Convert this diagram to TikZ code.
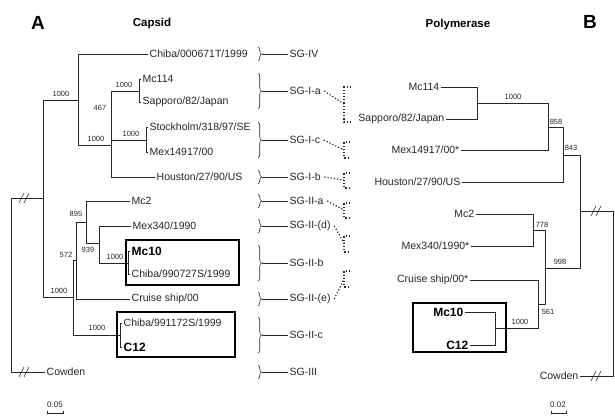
\documentclass[tikz,border=0pt]{standalone}
\usepackage{fontspec}
\setmainfont{Liberation Sans}
\usetikzlibrary{positioning,decorations.pathreplacing}

\begin{document}
\begin{tikzpicture}[
  x=1pt, y=-1pt,
  branch/.style={draw=black!85, line width=0.6pt},
  leaf/.style={font=\fontsize{10.5}{12}\selectfont, text=black!85, inner sep=1.5pt},
  hot/.style={font=\fontsize{12}{14}\selectfont\bfseries, inner sep=1.5pt},
  boot/.style={font=\fontsize{7.5}{8}\selectfont, text=black!85, inner sep=0pt},
  sg/.style={leaf, anchor=west},
  sgbrace/.style={branch, decorate, decoration={brace, amplitude=3.5pt}},
  link/.style={draw=black!85, dotted, line width=1.2pt},
  hl/.style={draw=black, line width=1.5pt},
  treetitle/.style={font=\fontsize{11.5}{13}\selectfont\bfseries},
  panel/.style={font=\fontsize{19}{21}\selectfont\bfseries},
  scalebar/.style={font=\fontsize{8}{9}\selectfont, text=black!85, inner sep=0pt}
]
  \useasboundingbox (0,0) rectangle (615,415);

  % titles
  \node[panel] (pA) at (38,23) {A};
  \node[panel] (pB) at (590,22) {B};
  \node[treetitle] (capsid) at (152,24) {Capsid};
  \node[treetitle] (polymerase) at (458,25) {Polymerase};

  % capsid tree, leaves
  \node[leaf, anchor=west] (cChiba) at (148,54) {Chiba/000671T/1999};
  \node[leaf, anchor=west] (cMc114) at (141,79) {Mc114};
  \node[leaf, anchor=west] (cSapporo) at (141,102) {Sapporo/82/Japan};
  \node[leaf, anchor=west] (cStock) at (148,127) {Stockholm/318/97/SE};
  \node[leaf, anchor=west] (cMex) at (148,152) {Mex14917/00};
  \node[leaf, anchor=west] (cHouston) at (155,177) {Houston/27/90/US};
  \node[leaf, anchor=west] (cMc2) at (130,201) {Mc2};
  \node[leaf, anchor=west] (cMex340) at (131,226) {Mex340/1990};
  \node[hot, anchor=west] (cMc10) at (130,251) {Mc10};
  \node[leaf, anchor=west] (cChiba727) at (130,274) {Chiba/990727S/1999};
  \node[leaf, anchor=west] (cCruise) at (130,299) {Cruise ship/00};
  \node[leaf, anchor=west] (cChiba172) at (122,323) {Chiba/991172S/1999};
  \node[hot, anchor=west] (cC12) at (122,347) {C12};
  \node[leaf, anchor=west] (cCowden) at (45,372) {Cowden};

  % capsid tree, inner nodes
  \coordinate (c1) at (11,285);
  \coordinate (c2) at (43,198);
  \coordinate (c3) at (78,100);
  \coordinate (c4) at (111,145);
  \coordinate (c4b) at (111.5,116);
  \coordinate (c5) at (139,91);
  \coordinate (c6) at (146,140);
  \coordinate (c7) at (73,297);
  \coordinate (c8) at (76,260);
  \coordinate (c9) at (86,222);
  \coordinate (c10) at (99,243);
  \coordinate (c11) at (128,263);
  \coordinate (c12) at (120,335);

  \draw[branch] (c1) |- (c2);
  \draw[branch] (c1) |- (cCowden.west);
  \draw[branch] (c2) |- (c3);
  \draw[branch] (c2) |- (c7);
  \draw[branch] (c3) |- (cChiba.west);
  \draw[branch] (c3) |- (c4);
  \draw[branch] (c4) |- (c5);
  \draw[branch] (c4) |- (c6);
  \draw[branch] (c4) |- (cHouston.west);
  \draw[branch, line width=1.6pt] (c4b) -- (c4b |- c6);
  \draw[branch] (c5) |- (cMc114.west);
  \draw[branch] (c5) |- (cSapporo.west);
  \draw[branch] (c6) |- (cStock.west);
  \draw[branch] (c6) |- (cMex.west);
  \draw[branch] (c7) |- (c8);
  \draw[branch] (c7) |- (c12);
  \draw[branch] (c8) |- (c9);
  \draw[branch] (c8) |- (cCruise.west);
  \draw[branch] (c9) |- (cMc2.west);
  \draw[branch] (c9) |- (c10);
  \draw[branch] (c10) |- (cMex340.west);
  \draw[branch] (c10) |- (c11);
  \draw[branch] (c11) |- (cMc10.west);
  \draw[branch] (c11) |- (cChiba727.west);
  \draw[branch] (c12) |- (cChiba172.west);
  \draw[branch] (c12) |- (cC12.west);

  \draw[hl] (126,240) rectangle (239,285);
  \draw[hl] (117,312) rectangle (235,357);

  % capsid tree, support values
  \node[boot] (bc1) at (61,94) {1000};
  \node[boot] (bc2) at (100,108) {467};
  \node[boot] (bc3) at (124,85) {1000};
  \node[boot] (bc4) at (131,134) {1000};
  \node[boot] (bc5) at (96,139) {1000};
  \node[boot] (bc6) at (76,214) {895};
  \node[boot] (bc7) at (88,250) {939};
  \node[boot] (bc8) at (66,255) {572};
  \node[boot] (bc9) at (115,257) {1000};
  \node[boot] (bc10) at (59,291) {1000};
  \node[boot] (bc11) at (97,328) {1000};

  % genogroups
  \node[sg] (sgIV) at (288,54) {SG-IV};
  \node[sg] (sgIa) at (288,91) {SG-I-a};
  \node[sg] (sgIc) at (288,140) {SG-I-c};
  \node[sg] (sgIb) at (288,177) {SG-I-b};
  \node[sg] (sgIIa) at (288,201) {SG-II-a};
  \node[sg] (sgIId) at (288,226) {SG-II-(d)};
  \node[sg] (sgIIb) at (288,263) {SG-II-b};
  \node[sg] (sgIIe) at (288,299) {SG-II-(e)};
  \node[sg] (sgIIc) at (288,335) {SG-II-c};
  \node[sg] (sgIII) at (288,372) {SG-III};

  \draw[sgbrace] (258,47) -- (258,61);
  \draw[sgbrace] (258,73) -- (258,109);
  \draw[sgbrace] (258,122) -- (258,158);
  \draw[sgbrace] (258,170) -- (258,184);
  \draw[sgbrace] (258,194) -- (258,208);
  \draw[sgbrace] (258,219) -- (258,233);
  \draw[sgbrace] (258,245) -- (258,281);
  \draw[sgbrace] (258,292) -- (258,306);
  \draw[sgbrace] (258,317) -- (258,353);
  \draw[sgbrace] (258,365) -- (258,379);
  \draw[branch] (sgIV.west) -- ++(-26,0);
  \draw[branch] (sgIa.west) -- ++(-26,0);
  \draw[branch] (sgIc.west) -- ++(-26,0);
  \draw[branch] (sgIb.west) -- ++(-26,0);
  \draw[branch] (sgIIa.west) -- ++(-26,0);
  \draw[branch] (sgIId.west) -- ++(-26,0);
  \draw[branch] (sgIIb.west) -- ++(-26,0);
  \draw[branch] (sgIIe.west) -- ++(-26,0);
  \draw[branch] (sgIIc.west) -- ++(-26,0);
  \draw[branch] (sgIII.west) -- ++(-26,0);

  % dotted links to the polymerase tree
  \draw[link] ([xshift=2pt]sgIa.east) -- (344,104);
  \draw[link] (351,87) -| (344,122) -- (351,122);
  \draw[link] ([xshift=2pt]sgIc.east) -- (344,150);
  \draw[link] (350,142) -| (344,158) -- (350,158);
  \draw[link] ([xshift=2pt]sgIb.east) -- (344,180);
  \draw[link] (350,173) -| (344,188) -- (350,188);
  \draw[link] ([xshift=2pt]sgIIa.east) -- (344,210);
  \draw[link] (350,203) -| (344,218) -- (350,218);
  \draw[link] ([xshift=2pt]sgIId.east) -- (344,243);
  \draw[link] (350,236) -| (344,252) -- (350,252);
  \draw[link] ([xshift=2pt]sgIIe.east) -- (344,279);
  \draw[link] (350,271) -| (344,287) -- (350,287);

  % polymerase tree, leaves
  \node[leaf, anchor=east] (pMc114) at (441,87) {Mc114};
  \node[leaf, anchor=east] (pSapporo) at (446,119) {Sapporo/82/Japan};
  \node[leaf, anchor=east] (pMex) at (461,150) {Mex14917/00*};
  \node[leaf, anchor=east] (pHouston) at (462,182) {Houston/27/90/US};
  \node[leaf, anchor=east] (pMc2) at (476,214) {Mc2};
  \node[leaf, anchor=east] (pMex340) at (471,246) {Mex340/1990*};
  \node[leaf, anchor=east] (pCruise) at (470,280) {Cruise ship/00*};
  \node[hot, anchor=east] (pMc10) at (465,312) {Mc10};
  \node[hot, anchor=east] (pC12) at (470,345) {C12};
  \node[leaf, anchor=east] (pCowden) at (580,376) {Cowden};

  % polymerase tree, inner nodes
  \coordinate (p1) at (613,293);
  \coordinate (p2) at (580,211);
  \coordinate (p3) at (563,155);
  \coordinate (p4) at (548,127);
  \coordinate (p5) at (477,103);
  \coordinate (p6) at (545,268);
  \coordinate (p7) at (533,230);
  \coordinate (p8) at (538,304);
  \coordinate (p9) at (495,328);

  \draw[branch] (p1) |- (p2);
  \draw[branch] (p1) |- (pCowden.east);
  \draw[branch] (p2) |- (p3);
  \draw[branch] (p2) |- (p6);
  \draw[branch] (p3) |- (p4);
  \draw[branch] (p3) |- (pHouston.east);
  \draw[branch] (p4) |- (p5);
  \draw[branch] (p4) |- (pMex.east);
  \draw[branch] (p5) |- (pMc114.east);
  \draw[branch] (p5) |- (pSapporo.east);
  \draw[branch] (p6) |- (p7);
  \draw[branch] (p6) |- (p8);
  \draw[branch] (p7) |- (pMc2.east);
  \draw[branch] (p7) |- (pMex340.east);
  \draw[branch] (p8) |- (pCruise.east);
  \draw[branch] (p8) |- (p9);
  \draw[branch] (p9) |- (pMc10.east);
  \draw[branch] (p9) |- (pC12.east);

  \draw[hl] (413,303) rectangle (506,352);

  % polymerase tree, support values
  \node[boot] (bp1) at (513,97) {1000};
  \node[boot] (bp2) at (556,122) {858};
  \node[boot] (bp3) at (571,148) {843};
  \node[boot] (bp4) at (542,225) {778};
  \node[boot] (bp5) at (560,262) {998};
  \node[boot] (bp6) at (548,312) {561};
  \node[boot] (bp7) at (520,322) {1000};

  % broken branches
  \foreach \p in {(25,198),(25,372),(597,211),(597,376)}
    \draw[branch] \p ++(-6,5) -- ++(5,-10) ++(0,10) -- ++(5,-10);

  % scale bars
  \node[scalebar] (s1) at (55,405) {0.05};
  \draw[branch] (47,411) -- (47,413) -- (63,413) -- (63,411);
  \node[scalebar] (s2) at (558,405) {0.02};
  \draw[branch] (551,411) -- (551,413) -- (566,413) -- (566,411);
\end{tikzpicture}
\end{document}
